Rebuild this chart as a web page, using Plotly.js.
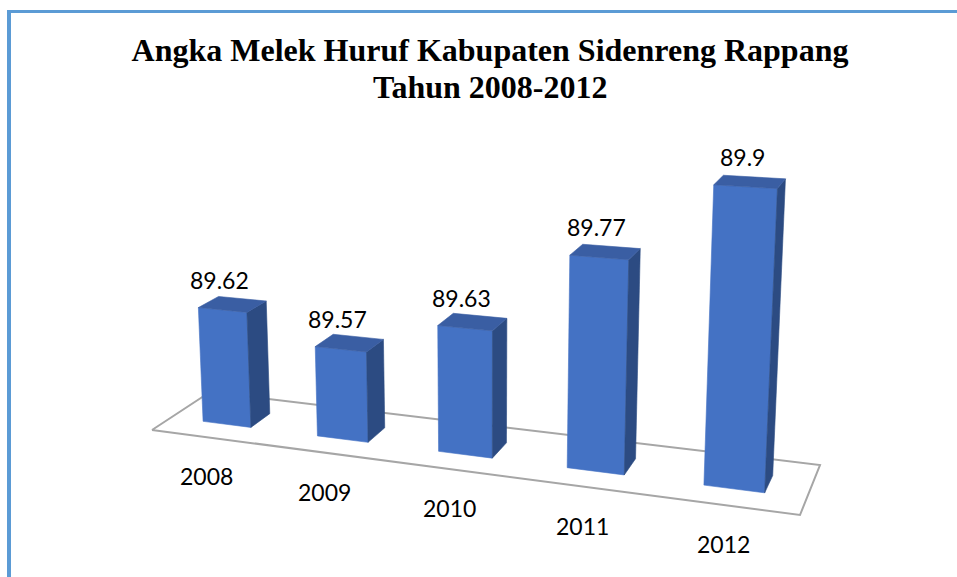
<!DOCTYPE html>
<html>
<head>
<meta charset="utf-8">
<script src="https://cdn.plot.ly/plotly-3.0.1.min.js"></script>
<style>
  html, body { margin:0; padding:0; background:#fff; overflow:hidden; }
  #chart { position:absolute; left:0; top:0; width:957px; height:577px; }
  #frame { position:absolute; left:7px; top:10px; width:1000px; height:700px;
           border-top:3px solid #5B9BD5; border-left:4px solid #5B9BD5; pointer-events:none; }
</style>
</head>
<body>
<div id="chart"></div>
<div id="frame"></div>
<script>
// ---------------- data ----------------
var years       = ['2008', '2009', '2010', '2011', '2012'];
var values      = [89.62, 89.57, 89.63, 89.77, 89.9];
var valueLabels = ['89.62', '89.57', '89.63', '89.77', '89.9'];
var valueBase   = 89.405;   // value at the chart floor

// ---------------- 3-D look (projection of the Excel-style perspective) ----------------
// floor corners on screen: front-left, front-right, back-right, back-left
var floorCorners = [[152, 430], [800, 515], [820, 465], [210, 392]];
var heightScale = 560;            // px per value unit at the floor's front-left corner
var vertVanish  = [484, 7200];    // where the vertical edges converge (far below)
var barHalfWidth = 0.0425;        // in floor-width units (5 categories on the floor)
var barFront = 0.32, barBack = 0.67; // in floor-depth units

var colFront = '#4472C4', colSide = '#2C4B82', colTop = '#3A5EA3', colFloor = '#A6A6A6';

// homography unit square -> floor quad
function homography(c) {
  var x0=c[0][0], y0=c[0][1], x1=c[1][0], y1=c[1][1], x2=c[2][0], y2=c[2][1], x3=c[3][0], y3=c[3][1];
  var dx1=x1-x2, dx2=x3-x2, dx3=x0-x1+x2-x3, dy1=y1-y2, dy2=y3-y2, dy3=y0-y1+y2-y3;
  var den = dx1*dy2 - dx2*dy1;
  var g = (dx3*dy2 - dx2*dy3)/den, h = (dx1*dy3 - dx3*dy1)/den;
  return { a:x1-x0+g*x1, b:x3-x0+h*x3, c:x0, d:y1-y0+g*y1, e:y3-y0+h*y3, f:y0, g:g, h:h };
}
var Hm = homography(floorCorners);
function project(u, v, z) {
  var s = z * heightScale;
  var X = Hm.a*u + Hm.b*v + Hm.c - s*vertVanish[0]/vertVanish[1];
  var Y = Hm.d*u + Hm.e*v + Hm.f - s;
  var W = Hm.g*u + Hm.h*v + 1 - s/vertVanish[1];
  return [X/W, Y/W];
}
function poly(pts, color, width, fill) {
  var xs = [], ys = [];
  pts.forEach(function (p) { var q = project(p[0], p[1], p[2]); xs.push(q[0]); ys.push(q[1]); });
  xs.push(xs[0]); ys.push(ys[0]);
  var t = { type:'scatter', mode:'lines', x:xs, y:ys, hoverinfo:'skip', showlegend:false,
            line:{ color:color, width:width } };
  if (fill) { t.fill = 'toself'; t.fillcolor = color; }
  return t;
}

var traces = [];
// floor outline
traces.push(poly([[0,0,0],[1,0,0],[1,1,0],[0,1,0]], colFloor, 2, false));

var nCat = years.length;
var annotations = [];
var labelFont = { family:'Lato, "Open Sans", sans-serif', size:23, color:'#000' };
values.forEach(function (val, i) {
  var uc = (i + 0.5) / nCat, u0 = uc - barHalfWidth, u1 = uc + barHalfWidth;
  var v0 = barFront, v1 = barBack, z = val - valueBase;
  traces.push(poly([[u0,v0,0],[u1,v0,0],[u1,v0,z],[u0,v0,z]], colFront, 0.6, true)); // front
  traces.push(poly([[u1,v0,0],[u1,v1,0],[u1,v1,z],[u1,v0,z]], colSide, 0.6, true));  // right side
  traces.push(poly([[u0,v0,z],[u1,v0,z],[u1,v1,z],[u0,v1,z]], colTop, 0.6, true));   // top

  var top = project(uc, v0, z);
  annotations.push({ x: top[0], y: top[1], xref:'x', yref:'y', text: valueLabels[i], showarrow:false,
    xanchor:'center', yanchor:'bottom', yshift: 14, xshift: -3, font: labelFont });
  var base = project(uc, 0, 0);
  annotations.push({ x: base[0], y: base[1], xref:'x', yref:'y', text: years[i], showarrow:false,
    xanchor:'center', yanchor:'middle', yshift: -39, xshift: -2, font: labelFont });
});

var titleFont = { family:'"Liberation Serif", "Times New Roman", serif', size:32, color:'#000' };
annotations.push({ xref:'paper', yref:'paper', x: 490/957, y: 1 - 87/577, xanchor:'center', yanchor:'middle',
  text:'<b>Tahun 2008-2012</b>', showarrow:false, font: titleFont });

var layout = {
  width: 957, height: 577,
  margin: { l:0, r:0, t:0, b:0 },
  paper_bgcolor:'#fff', plot_bgcolor:'#fff',
  showlegend:false,
  title: {
    text:'<b>Angka Melek Huruf Kabupaten Sidenreng Rappang</b>',
    font: titleFont,
    x: 490/957, xanchor:'center', xref:'paper', yref:'container', y: 1 - 50/577, yanchor:'middle'
  },
  xaxis: { range:[0, 957], visible:false, fixedrange:true },
  yaxis: { range:[577, 0], visible:false, fixedrange:true },
  annotations: annotations
};

Plotly.newPlot('chart', traces, layout, { displayModeBar:false, staticPlot:true });
</script>
</body>
</html>
